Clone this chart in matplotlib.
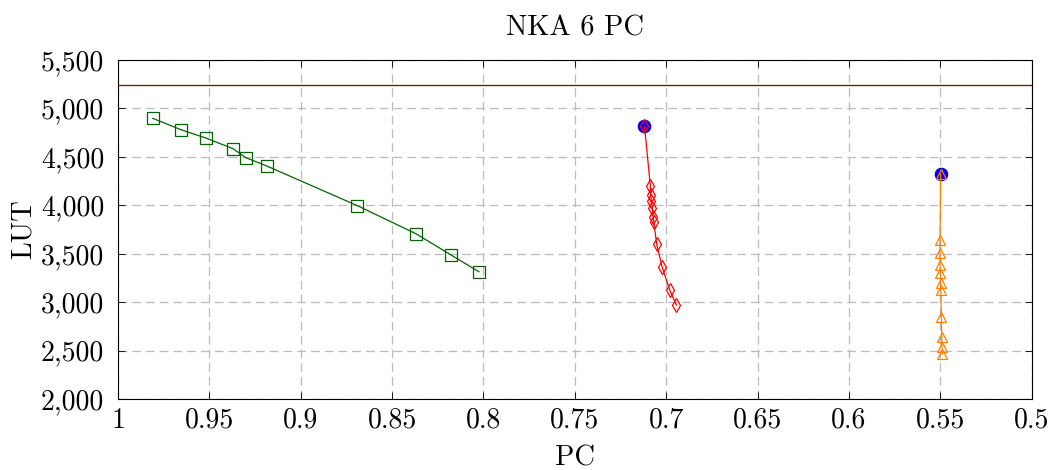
import matplotlib
matplotlib.use("Agg")
import matplotlib.pyplot as plt
from matplotlib.ticker import FuncFormatter

plt.rcParams['font.family'] = 'cmr10'
plt.rcParams['mathtext.fontset'] = 'cm'
plt.rcParams['axes.formatter.use_mathtext'] = True

# green squares series
pc_green = [0.981, 0.9655, 0.952, 0.937, 0.930, 0.9185, 0.869, 0.837, 0.818, 0.8025]
lut_green = [4898, 4780, 4695, 4584, 4491, 4405, 3996, 3707, 3490, 3314]

# red diamonds series
pc_red = [0.7119, 0.7087, 0.7085, 0.7081, 0.7076, 0.7072, 0.7068, 0.7052, 0.7022, 0.6981, 0.6944]
lut_red = [4815, 4202, 4106, 4044, 3969, 3882, 3827, 3597, 3360, 3125, 2970]

# orange triangles series
pc_orange = [0.5498, 0.5502, 0.5502, 0.5502, 0.5500, 0.5499, 0.5497, 0.5494, 0.5492, 0.5491, 0.5489]
lut_orange = [4325, 3642, 3504, 3383, 3304, 3194, 3125, 2850, 2643, 2540, 2465]

# highlighted points (blue)
pc_best = [0.7119, 0.5498]
lut_best = [4815, 4325]

limit_lut = 5240

fig = plt.figure(figsize=(10.52, 4.70), dpi=100)
ax = fig.add_axes([0.1122, 0.151, 0.8685, 0.7213])

ax.axhline(limit_lut, color='#503018', lw=1.0, zorder=2)

ax.plot(pc_best, lut_best, ls='none', marker='o', ms=9, mfc='#0000ff',
        mec='#0000cc', mew=0.8, zorder=3)
ax.plot(pc_green, lut_green, color='#006400', lw=0.9, marker='s', ms=8.5,
        mfc='none', mec='#006400', mew=0.9, zorder=4)
ax.plot(pc_red, lut_red, color='#ff0000', lw=0.9, marker='d', ms=7.5,
        mfc='none', mec='#ff0000', mew=0.9, zorder=4)
ax.plot(pc_orange, lut_orange, color='#ff8000', lw=0.9, marker='^', ms=7.5,
        mfc='none', mec='#ff8000', mew=0.9, zorder=4)

ax.set_xlim(1.0, 0.5)
ax.set_ylim(2000, 5500)
ax.set_xticks([1, 0.95, 0.9, 0.85, 0.8, 0.75, 0.7, 0.65, 0.6, 0.55, 0.5])
ax.set_yticks(range(2000, 5501, 500))
ax.xaxis.set_major_formatter(FuncFormatter(lambda v, p: '1' if abs(v - 1) < 1e-9 else ('%g' % v)))
ax.yaxis.set_major_formatter(FuncFormatter(lambda v, p: '{:,}'.format(int(v))))

ax.grid(True, color='#bbbbbb', ls=(0, (7, 4)), lw=0.9)
ax.set_axisbelow(True)
ax.tick_params(direction='in', length=5, width=0.6, top=True, right=True,
               labelsize=20)
ax.tick_params(axis='y', pad=10)
ax.tick_params(axis='x', pad=6)
for s in ax.spines.values():
    s.set_linewidth(0.8)

ax.set_title('NKA 6 PC', fontsize=20.5, pad=18)
ax.set_xlabel('PC', fontsize=20.5, labelpad=8)
ax.set_ylabel('LUT', fontsize=20.5, labelpad=3)

fig.savefig('out.png', dpi=100)
